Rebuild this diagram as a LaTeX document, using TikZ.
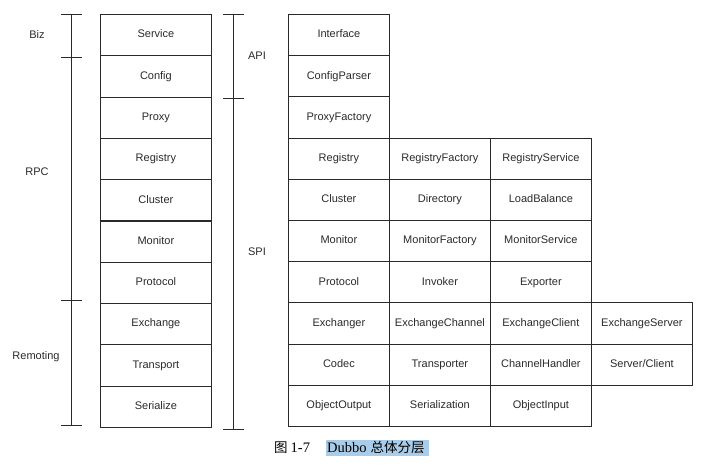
\documentclass[tikz,border=0pt]{standalone}
\usepackage{fontspec}
\setmainfont{Liberation Sans}
\newfontfamily\capserif{Liberation Serif}
\newfontfamily\cjk{Noto Sans CJK SC}
\definecolor{ln}{HTML}{2A2A2A}
\definecolor{hl}{HTML}{A9CDE9}
\tikzset{
  cell/.style={draw=ln, line width=0.8pt, anchor=north west, inner sep=0pt,
    minimum height=41.25pt, text height=8pt, text depth=2.3pt,
    font=\fontsize{11}{13}\selectfont, text=ln},
  lcell/.style={cell, minimum width=111pt},
  rcell/.style={cell, minimum width=101pt},
  brk/.style={draw=ln, line width=0.8pt},
  side/.style={font=\fontsize{11}{13}\selectfont, text=ln}
}
\begin{document}
\begin{tikzpicture}[x=1pt,y=-1pt]
\useasboundingbox (0,0) rectangle (716,469);
% left stack
\foreach \t [count=\i from 0] in {Service,Config,Proxy,Registry,Cluster,Monitor,Protocol,Exchange,Transport,Serialize}{
  \node[lcell] (L\i) at (100,{14+\i*41.3}) {\t};
}
% right grid, column 1
\foreach \t [count=\i from 0] in {Interface,ConfigParser,ProxyFactory,Registry,Cluster,Monitor,Protocol,Exchanger,Codec,ObjectOutput}{
  \node[rcell] (A\i) at (288,{14+\i*41.2}) {\t};
}
% column 2
\foreach \t [count=\i from 3] in {RegistryFactory,Directory,MonitorFactory,Invoker,ExchangeChannel,Transporter,Serialization}{
  \node[rcell] (B\i) at (389,{14+\i*41.2}) {\t};
}
% column 3
\foreach \t [count=\i from 3] in {RegistryService,LoadBalance,MonitorService,Exporter,ExchangeClient,ChannelHandler,ObjectInput}{
  \node[rcell] (C\i) at (490,{14+\i*41.2}) {\t};
}
% column 4
\node[rcell] (D7) at (591,{14+7*41.2}) {ExchangeServer};
\node[rcell] (D8) at (591,{14+8*41.2}) {Server/Client};

% left bracket
\coordinate (lt) at (71,14);
\coordinate (lm1) at (71,57);
\coordinate (lm2) at (71,300);
\coordinate (lb) at (71,425);
\draw[brk] (lt) -- (lb);
\foreach \c in {lt,lm1,lm2,lb}{\draw[brk] ([xshift=-10pt]\c) -- ([xshift=11pt]\c);}
\node[side] (biz) at (37,35) {Biz};
\node[side] (rpc) at (37,172) {RPC};
\node[side] (rem) at (36,357) {Remoting};

% middle bracket
\coordinate (mt) at (233,14);
\coordinate (mm) at (233,98);
\coordinate (mb) at (233,429);
\draw[brk] (mt) -- (mb);
\foreach \c in {mt,mm,mb}{\draw[brk] ([xshift=-10pt]\c) -- ([xshift=11pt]\c);}
\node[side] (api) at (257,56) {API};
\node[side] (spi) at (257,252) {SPI};

% caption
\fill[hl] (326,440) rectangle (429,455.5);
\node[anchor=base west, inner sep=0pt] (cap1) at (274,452) {\cjk\fontsize{13.5}{15}\selectfont 图\hspace{3pt}\capserif\fontsize{14.5}{16}\selectfont 1-7};
\node[anchor=base west, inner sep=0pt] (cap2) at (327,452) {\capserif\fontsize{14.5}{16}\selectfont Dubbo\hspace{4pt}\cjk\fontsize{13.5}{15}\selectfont 总体分层};
\end{tikzpicture}
\end{document}
